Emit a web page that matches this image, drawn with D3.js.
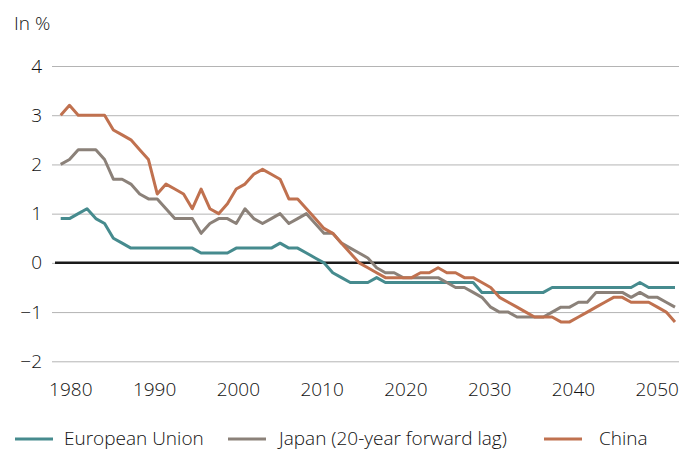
<!DOCTYPE html>
<html>
<head>
<meta charset="utf-8">
<script src="https://cdnjs.cloudflare.com/ajax/libs/d3/7.8.5/d3.min.js"></script>
<style>
    body { margin: 0; background: #fff; }
    svg text { font-family: "Open Sans", "Noto Sans", sans-serif; font-weight: 300; fill: #111; }
</style>
</head>
<body>
<div class="svg-container"></div>
<script>
// data, one value per year starting 1980
var startYear = 1980;
var euValues = [0.9, 0.9, 1.0, 1.1, 0.9, 0.8, 0.5, 0.4, 0.3, 0.3,
    0.3, 0.3, 0.3, 0.3, 0.3, 0.3, 0.2, 0.2, 0.2, 0.2,
    0.3, 0.3, 0.3, 0.3, 0.3, 0.4, 0.3, 0.3, 0.2, 0.1,
    0.0, -0.2, -0.3, -0.4, -0.4, -0.4, -0.3, -0.4, -0.4, -0.4,
    -0.4, -0.4, -0.4, -0.4, -0.4, -0.4, -0.4, -0.4, -0.6, -0.6,
    -0.6, -0.6, -0.6, -0.6, -0.6, -0.6, -0.5, -0.5, -0.5, -0.5,
    -0.5, -0.5, -0.5, -0.5, -0.5, -0.5, -0.4, -0.5, -0.5, -0.5,
    -0.5];
var japanValues = [2.0, 2.1, 2.3, 2.3, 2.3, 2.1, 1.7, 1.7, 1.6, 1.4,
    1.3, 1.3, 1.1, 0.9, 0.9, 0.9, 0.6, 0.8, 0.9, 0.9,
    0.8, 1.1, 0.9, 0.8, 0.9, 1.0, 0.8, 0.9, 1.0, 0.8,
    0.6, 0.6, 0.4, 0.3, 0.2, 0.1, -0.1, -0.2, -0.2, -0.3,
    -0.3, -0.3, -0.3, -0.3, -0.4, -0.5, -0.5, -0.6, -0.7, -0.9,
    -1.0, -1.0, -1.1, -1.1, -1.1, -1.1, -1.0, -0.9, -0.9, -0.8,
    -0.8, -0.6, -0.6, -0.6, -0.6, -0.7, -0.6, -0.7, -0.7, -0.8,
    -0.9];
var chinaValues = [3.0, 3.2, 3.0, 3.0, 3.0, 3.0, 2.7, 2.6, 2.5, 2.3,
    2.1, 1.4, 1.6, 1.5, 1.4, 1.1, 1.5, 1.1, 1.0, 1.2,
    1.5, 1.6, 1.8, 1.9, 1.8, 1.7, 1.3, 1.3, 1.1, 0.9,
    0.7, 0.6, 0.4, 0.2, 0.0, -0.1, -0.2, -0.3, -0.3, -0.3,
    -0.3, -0.2, -0.2, -0.1, -0.2, -0.2, -0.3, -0.3, -0.4, -0.5,
    -0.7, -0.8, -0.9, -1.0, -1.1, -1.1, -1.1, -1.2, -1.2, -1.1,
    -1.0, -0.9, -0.8, -0.7, -0.7, -0.8, -0.8, -0.8, -0.9, -1.0,
    -1.2];
var seriesNames = ["European Union", "Japan (20-year forward lag)", "China"];
var yTicks = [-2, -1, 0, 1, 2, 3, 4];
var xTicks = [1980, 1990, 2000, 2010, 2020, 2030, 2040, 2050];

render();

function render(){

    var width = 691;
    var height = 451;
    var gridLeft = 52;
    var gridRight = 679;
    var fontSize = "19px";
    var colors = ["#468b8e", "#8b8179", "#c0714f"];

    var svg = d3.select(".svg-container").append("svg")
    .attr("width", width)
    .attr("height", height);

    var years = euValues.map(function(d, i){ return startYear + i; });
    var lastYear = years[years.length - 1];

    // X: data positions and tick label positions do not line up in the original
    var x = d3.scaleLinear()
    .domain([startYear, lastYear])
    .range([60.7, 675]);

    var xLabel = d3.scaleLinear()
    .domain([1980, 2050])
    .range([70.3, 656.7]);

    // Y
    var y = d3.scaleLinear()
    .domain([-2, 4])
    .range([361.3, 66]);

    // unit label
    svg.append("text")
    .attr("x", 14)
    .attr("y", 30)
    .style("font-size", fontSize)
    .text("In %");

    // grid + y labels
    var yAxis = svg.append("g")
    .attr("transform", "translate(" + gridLeft + ",0)")
    .call(d3.axisLeft(y)
        .tickValues(yTicks)
        .tickSize(-(gridRight - gridLeft))
        .tickPadding(10)
        .tickFormat(function(d){ return d < 0 ? "\u2212" + Math.abs(d) : d; }));
    yAxis.select(".domain").remove();
    yAxis.selectAll("line")
    .attr("stroke", "#b4b4b4")
    .attr("stroke-width", 1);
    yAxis.selectAll("text")
    .style("font-size", fontSize)
    .attr("fill", "#111");

    // zero line
    svg.append("line")
    .attr("x1", 55)
    .attr("x2", gridRight)
    .attr("y1", y(0))
    .attr("y2", y(0))
    .attr("stroke", "#1a1a1a")
    .attr("stroke-width", 2.5);

    // x labels
    var xAxis = svg.append("g")
    .attr("transform", "translate(0,382)")
    .call(d3.axisBottom(xLabel)
        .tickValues(xTicks)
        .tickSize(0)
        .tickPadding(0)
        .tickFormat(d3.format("d")));
    xAxis.select(".domain").remove();
    xAxis.selectAll("text")
    .style("font-size", fontSize)
    .attr("fill", "#111");

    // lines
    var line = d3.line()
    .x(function(d, i){ return x(years[i]); })
    .y(function(d){ return y(d); });

    var series = [euValues, japanValues, chinaValues];
    series.forEach(function(values, k){
        svg.append("path")
        .datum(values)
        .attr("d", line)
        .attr("fill", "none")
        .attr("stroke", colors[k])
        .attr("stroke-width", 3)
        .attr("stroke-linejoin", "round");
    });

    // legend
    var legendX = [15, 228, 544];
    var textGap = [49, 51, 55];
    seriesNames.forEach(function(name, k){
        svg.append("line")
        .attr("x1", legendX[k])
        .attr("x2", legendX[k] + 38)
        .attr("y1", 439)
        .attr("y2", 439)
        .attr("stroke", colors[k])
        .attr("stroke-width", 3);

        svg.append("text")
        .attr("x", legendX[k] + textGap[k])
        .attr("y", 445)
        .style("font-size", fontSize)
        .text(name);
    });
}
</script>
</body>
</html>
